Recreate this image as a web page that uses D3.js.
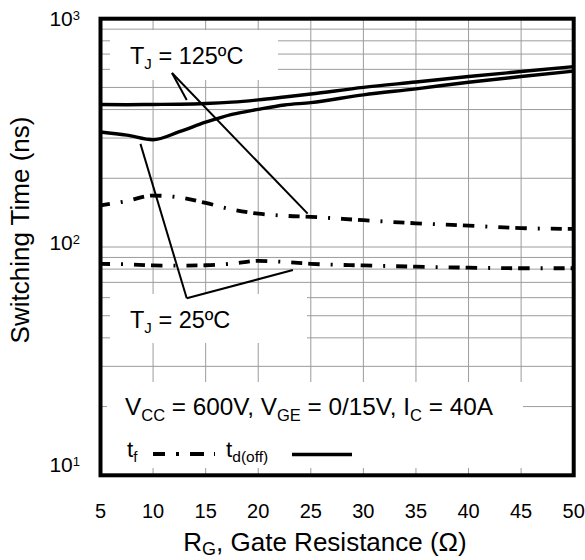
<!DOCTYPE html>
<html><head><meta charset="utf-8">
<script src="https://cdn.jsdelivr.net/npm/d3@7"></script>
<style>html,body{margin:0;padding:0;background:#fff;} svg{display:block;}</style>
</head><body><svg id="c" width="585" height="560"></svg>
<script>
// ---- data ----
const rgValues = [5, 7.5, 10, 12.5, 15, 17.5, 20, 22.5, 25, 30, 35, 40, 45, 50];
const tdOff125 = [421, 420, 421, 422, 425, 431, 441, 454, 468, 500, 528, 558, 587, 617];
const tdOff25  = [319, 309, 295, 320, 352, 381, 401, 419, 429, 464, 493, 527, 558, 589];
const tf125    = [152, 159, 168, 165, 156, 146, 140, 137, 135.5, 131, 127, 124, 121, 120];
const tf25     = [84.3, 84, 83, 82.9, 83.2, 84.5, 86.9, 86, 84.4, 83, 82, 81.2, 80.7, 80.7];
const xTicks = [5, 10, 15, 20, 25, 30, 35, 40, 45, 50];
const yTicks = [10, 100, 1000];
const yTickExp = ["1", "2", "3"];
const yMinor = [20, 30, 40, 50, 60, 70, 80, 90, 200, 300, 400, 500, 600, 700, 800, 900];
// leader lines (data coordinates): [from, to]
const leaders125 = [[[11.8, 578], [13.2, 440]], [[11.8, 578], [24.7, 140]]];
const leaders25  = [[[13.2, 59.6], [8.8, 283]], [[13.2, 59.6], [23.3, 79.3]]];

// ---- layout ----
const L = 100.5, R = 573.7, T = 18.7, B = 475.3;
const FONT = "Arial, 'Liberation Sans', sans-serif";
const svg = d3.select("#c");
const x = d3.scaleLinear().domain([5, 50]).range([L, R]);
const y = d3.scaleLog().domain([10, 1000]).range([B, T]);

// grid
const g = svg.append("g").attr("stroke", "#9c9c9c").attr("stroke-width", 1);
g.selectAll("line.v").data(xTicks.slice(1, -1)).enter().append("line")
  .attr("x1", d => x(d)).attr("x2", d => x(d)).attr("y1", T).attr("y2", B);
g.selectAll("line.h").data(yMinor.concat([100])).enter().append("line")
  .attr("x1", L).attr("x2", R).attr("y1", d => y(d)).attr("y2", d => y(d));

// white label boxes
const boxes = [[110, 30, 168, 50], [110, 294, 197, 49], [107, 382, 416, 86]];
svg.selectAll("rect.box").data(boxes).enter().append("rect")
  .attr("x", d => d[0]).attr("y", d => d[1]).attr("width", d => d[2]).attr("height", d => d[3])
  .attr("fill", "#fff");

// curves
const line = d3.line().x(d => x(d[0])).y(d => y(d[1])).curve(d3.curveMonotoneX);
const zip = arr => rgValues.map((r, i) => [r, arr[i]]);
const cp = svg.append("g").attr("fill", "none").attr("stroke", "#000");
[tdOff125, tdOff25].forEach(s => cp.append("path").attr("d", line(zip(s))).attr("stroke-width", 3.4));
[tf125, tf25].forEach(s => cp.append("path").attr("d", line(zip(s))).attr("stroke-width", 3.8)
  .attr("stroke-dasharray", "11 6 11.5 11 2 11").attr("stroke-dashoffset", 19));

// leaders
leaders125.concat(leaders25).forEach(l => {
  svg.append("line").attr("x1", x(l[0][0])).attr("y1", y(l[0][1]))
    .attr("x2", x(l[1][0])).attr("y2", y(l[1][1]))
    .attr("stroke", "#000").attr("stroke-width", 2);
});

// helper for text with subscripts
function rich(xp, yp, parts, fs, sfs, anchor, sub) {
  const t = svg.append("text").attr("x", xp).attr("y", yp).attr("font-family", FONT)
    .attr("font-size", fs).attr("fill", "#000").attr("text-anchor", anchor || "start");
  let shifted = 0;
  const subDy = sub || 5;
  parts.forEach(p => {
    const sp = t.append("tspan").text(p[0]);
    const want = p[1] === 1 ? subDy : (p[1] === 2 ? -6 : 0);
    if (want !== shifted) { sp.attr("dy", want - shifted); shifted = want; }
    if (p[1]) sp.attr("font-size", sfs);
  });
  return t;
}

// annotations
rich(130, 64, [["T", 0], ["J", 1], [" = 125ºC", 0]], 23.5, 15);
rich(130, 328, [["T", 0], ["J", 1], [" = 25ºC", 0]], 23.5, 15);
rich(125, 415, [["V", 0], ["CC", 1], [" = 600V, V", 0], ["GE", 1], [" = 0/15V, I", 0], ["C", 1], [" = 40A", 0]], 24.3, 16.5, "start", 6);
rich(127, 457, [["t", 0], ["f", 1]], 22.5, 15);
rich(226, 457, [["t", 0], ["d(off)", 1]], 22.5, 15.5);
svg.append("line").attr("x1", 153).attr("x2", 215).attr("y1", 454).attr("y2", 454)
  .attr("stroke", "#000").attr("stroke-width", 3.8).attr("stroke-dasharray", "12 11 3 11 14 10 1");
svg.append("line").attr("x1", 292).attr("x2", 352).attr("y1", 454.5).attr("y2", 454.5)
  .attr("stroke", "#000").attr("stroke-width", 3.4);

// tick labels
svg.selectAll("text.xt").data(xTicks).enter().append("text")
  .attr("x", d => x(d)).attr("y", 518).attr("text-anchor", "middle")
  .attr("font-family", FONT).attr("font-size", 20).text(d => d);
const yNudge = [-3.5, 3, 7.5];
yTicks.forEach((v, i) => {
  rich(80, y(v) + yNudge[i], [["10", 0], [yTickExp[i], 2]], 21, 13, "end");
});

// axis titles
rich(325, 551, [["R", 0], ["G", 1], [", Gate Resistance (Ω)", 0]], 26, 18, "middle", 4);
svg.append("text").attr("transform", "translate(29,230) rotate(-90)")
  .attr("text-anchor", "middle").attr("font-family", FONT).attr("font-size", 26)
  .text("Switching Time (ns)");

// frame
svg.append("rect").attr("x", L).attr("y", T).attr("width", R - L).attr("height", B - T)
  .attr("fill", "none").attr("stroke", "#000").attr("stroke-width", 4);
</script></body></html>
